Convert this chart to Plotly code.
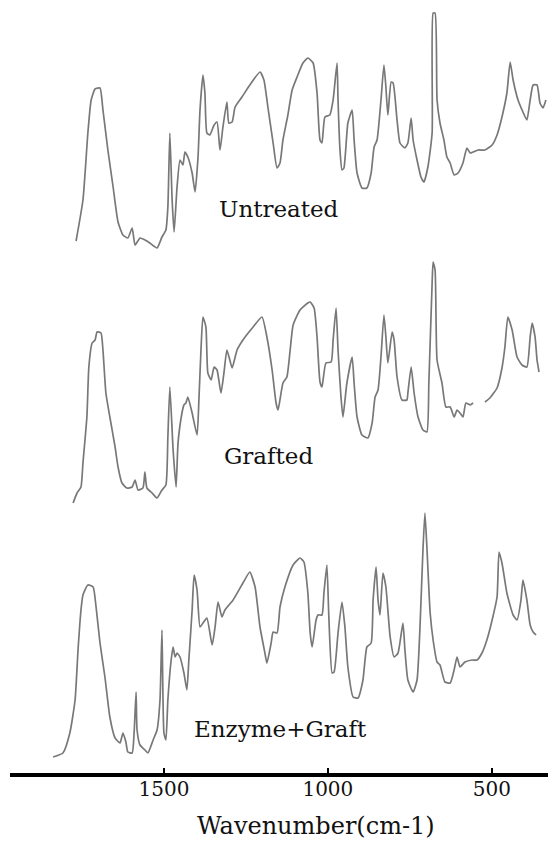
import plotly.graph_objects as go

# ---- data (wavenumber in cm-1, relative transmittance) ----
untreated_wn = [1768,1747,1732,1722,1710,1695,1686,1671,1655,1640,1625,1610,1597,1588,1573,1558,1543,1521,1506,1494,
                1488,1482,1475,1469,1460,1451,1442,1436,1427,1414,1405,1396,1390,1381,1375,1369,1360,1347,1338,1329,
                1320,1308,1302,1292,1283,1262,1238,1207,1195,1183,1167,1155,1146,1137,1122,1109,1094,1076,1061,1045,
                1033,1024,1018,1009,994,984,972,969,963,957,951,939,926,920,911,896,881,868,859,850,
                838,829,823,817,807,801,789,780,765,756,746,740,728,716,707,695,682,679,673,667,
                658,646,637,627,615,603,588,576,566,557,542,521,499,484,469,454,444,435,420,405,
                393,383,374,362,353,344,335]
untreated_t = [9,50,117,150,161,162,140,100,63,28,15,12,22,5,12,10,7,2,13,20,
               43,117,50,18,63,90,85,98,93,77,58,93,140,175,157,117,115,125,128,100,
               123,148,127,128,143,153,165,178,170,143,107,82,87,110,135,160,173,187,192,187,
               157,110,107,133,135,150,187,150,100,80,82,127,140,110,77,62,62,77,103,110,
               150,185,163,135,168,167,130,107,102,107,132,110,90,73,68,83,117,237,237,150,
               127,110,93,87,75,77,87,102,97,98,100,100,105,115,133,157,188,170,150,138,
               130,150,165,165,147,142,150]

grafted_wn = [1777,1765,1753,1747,1735,1729,1719,1710,1704,1692,1686,1677,1665,1649,1640,1628,1613,1597,1588,1579,
              1564,1558,1552,1536,1521,1506,1494,1488,1482,1472,1463,1457,1445,1439,1433,1427,1414,1399,1393,1387,
              1381,1372,1366,1356,1347,1338,1326,1317,1308,1299,1292,1277,1259,1228,1201,1186,1170,1158,1152,1137,
              1125,1115,1106,1085,1061,1054,1042,1033,1024,1018,1006,990,984,975,969,960,954,942,926,920,
              911,896,878,865,856,847,838,829,823,817,804,798,789,774,759,756,746,737,725,710,
              698,692,682,679,673,667,652,640,627,615,606,597,588,579,566,557,None,521,506,484,
              469,460,451,438,423,408,393,383,377,368,362,356]
grafted_t = [2,12,18,42,88,138,162,165,173,172,155,112,88,58,38,22,17,18,25,15,
             17,33,17,12,7,15,20,68,118,55,18,62,92,100,102,108,92,70,108,155,
             188,178,132,125,138,135,112,132,155,145,137,155,165,178,188,168,135,102,95,122,
             128,155,180,195,202,203,197,168,123,118,142,143,165,197,155,108,88,122,148,122,
             88,70,67,82,108,115,148,190,168,142,173,165,128,105,105,112,138,112,88,75,
             73,122,222,243,235,145,122,98,98,88,95,92,88,102,100,102,None,103,107,117,
             137,158,188,175,148,140,138,168,182,168,145,133]

enzyme_wn = [1838,1808,1787,1771,1762,1753,1747,1732,1716,1707,1695,1680,1665,1649,1634,1625,1616,1610,1597,1591,
             1585,1582,1573,1558,1549,1533,1521,1512,1506,1500,1494,1488,1478,1472,1466,1460,1451,1439,1430,1424,
             1414,1408,1399,1390,1381,1369,1353,1344,1335,1323,1314,1289,1259,1238,1222,1207,1192,1186,1173,1167,
             1155,1146,1131,1106,1085,1073,1061,1054,1048,1036,1030,1018,1012,1003,997,987,981,969,957,948,
             939,923,908,893,881,868,862,853,847,841,832,823,810,798,786,771,765,756,740,728,
             719,710,704,698,688,679,667,658,643,627,615,606,597,582,560,545,530,515,499,484,
             478,469,454,435,423,411,405,393,383,374,365]
enzyme_t = [3,7,27,60,110,150,165,175,173,153,117,83,43,22,17,27,18,8,7,27,
            68,30,15,10,7,20,30,60,130,27,20,60,100,113,103,107,103,87,70,100,
            150,185,170,133,137,142,115,133,158,143,150,160,177,188,173,133,107,97,117,128,
            127,153,173,195,202,198,167,127,113,140,145,145,167,195,143,87,88,127,158,133,
            93,63,62,80,113,117,160,193,160,145,187,173,123,103,107,137,110,80,68,80,
            133,210,247,213,147,120,98,95,78,77,90,103,93,98,100,100,107,120,140,163,
            208,197,167,145,140,160,180,160,135,128,125]

series_names = ["Untreated", "Grafted", "Enzyme+Graft"]
series_wn = [untreated_wn, grafted_wn, enzyme_wn]
series_t = [untreated_t, grafted_t, enzyme_t]
offsets = [523, 268, 13]          # vertical stacking offsets

tick_vals = [1500, 1000, 500]
tick_text = ["1500", "1000", "500"]

# ---- figure ----
fig = go.Figure()
for name, wn, t, off in zip(series_names, series_wn, series_t, offsets):
    y = [None if v is None else v + off for v in t]
    fig.add_trace(go.Scatter(x=wn, y=y, mode="lines", name=name,
                             line=dict(color="#787878", width=1.7, shape="spline", smoothing=0.5),
                             connectgaps=False, hoverinfo="skip"))

label_pos = [(1149, 564), (1180, 317), (1146, 44)]
for name, (lx, ly) in zip(series_names, label_pos):
    fig.add_annotation(x=lx, y=ly, xref="x", yref="y", text=name, showarrow=False,
                       font=dict(family="DejaVu Serif", size=23, color="#111111"))

fig.add_annotation(x=1036, y=-0.0693, xref="x", yref="paper", yanchor="middle",
                   text="Wavenumber(cm-1)", showarrow=False,
                   font=dict(family="DejaVu Serif", size=24, color="#111111"))

# page body has an 8px margin, so the figure is sized to fit the 556x842 window
fig.update_layout(
    width=548, height=834,
    margin=dict(l=2, r=0, t=0, b=69),
    paper_bgcolor="white", plot_bgcolor="white",
    showlegend=False,
    xaxis=dict(range=[1969.5, 304.2], tickvals=tick_vals, ticktext=tick_text,
               showline=True, linecolor="black", linewidth=4,
               ticks="inside", ticklen=5, tickwidth=2, tickcolor="black",
               ticklabelstandoff=-5,
               showgrid=False, zeroline=False,
               tickfont=dict(family="DejaVu Serif", size=20, color="#111111")),
    yaxis=dict(range=[0, 765], visible=False, showgrid=False, zeroline=False),
)

fig.write_html("out.html")
